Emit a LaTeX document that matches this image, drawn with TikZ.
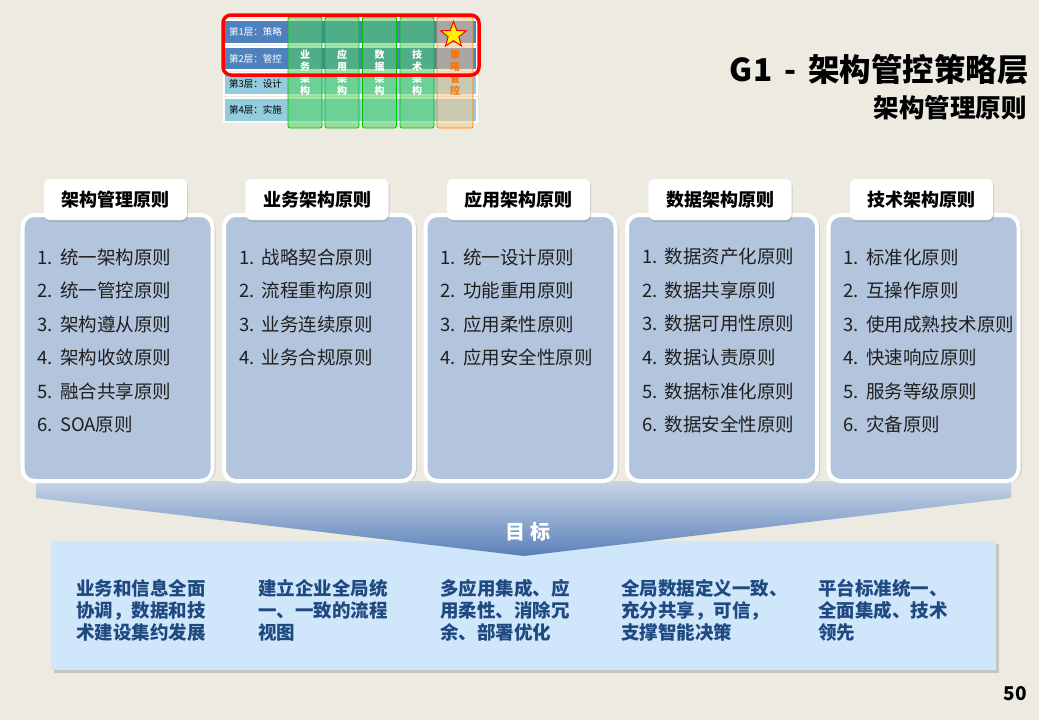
\documentclass[tikz,border=0pt]{standalone}
\usepackage{fontspec}
\setmainfont{Noto Sans CJK SC}
\usetikzlibrary{shapes.geometric, positioning, shadows, calc}
\definecolor{bgbeige}{HTML}{EDEBE1}
\definecolor{panelblue}{HTML}{B3C5DD}
\definecolor{goalblue}{HTML}{D0E6FB}
\definecolor{goaltext}{HTML}{1F4A80}
\definecolor{layerdark}{HTML}{4F81BD}
\definecolor{layerlight}{HTML}{93CDDD}
\definecolor{colgreen}{HTML}{4FD35F}
\definecolor{colorange}{HTML}{F6C88C}
\definecolor{funneltop}{HTML}{C8D5E5}
\definecolor{funnelbottom}{HTML}{5A80BA}

\begin{document}
\begin{tikzpicture}[
    x = 1pt, y = -1pt,
    layer/.style = {
      rectangle, draw = white, line width = 1.2pt, inner sep = 0pt,
      minimum width = 253pt
    },
    layertext/.style = {
      anchor = west, inner sep = 0pt, font = \fontsize{9.5}{11}\selectfont
    },
    column/.style = {
      rectangle, rounded corners = 2pt, draw = green!75!black, line width = 0.8pt,
      fill = colgreen, fill opacity = 0.55, inner sep = 0pt,
      minimum width = 34pt, minimum height = 111pt
    },
    coltext/.style = {
      align = center, inner sep = 0pt, text = white,
      font = \bfseries\fontsize{10}{12}\selectfont
    },
    panel/.style = {
      rectangle, rounded corners = 12pt, draw = white, line width = 4pt,
      fill = panelblue, inner sep = 0pt,
      minimum width = 190pt, minimum height = 266pt,
      drop shadow = {opacity = 0.3, shadow xshift = 3pt, shadow yshift = -1pt}
    },
    header/.style = {
      rectangle, rounded corners = 6pt, fill = white, inner sep = 0pt,
      minimum width = 143pt, minimum height = 41pt,
      font = \bfseries\fontsize{18}{20}\selectfont,
      drop shadow = {opacity = 0.3, shadow xshift = 1pt, shadow yshift = -2pt}
    },
    item/.style = {
      anchor = west, inner sep = 0pt, text = black!88,
      font = \fontsize{18.5}{22}\selectfont
    },
    goal/.style = {
      anchor = north west, align = left, inner sep = 0pt, text = goaltext,
      font = \bfseries\fontsize{18.5}{22}\selectfont
    },
    ]

    % background
    \fill [bgbeige] (0,0) rectangle (1039,720);
    \useasboundingbox (0,0) rectangle (1039,720);

    % draw layer rows
    \foreach \i/\y/\h/\c/\t/\txt in {1/32/24/layerdark/white/策略, 2/58.5/23/layerdark/white/管控,
                                     3/84/22/layerlight/black/设计, 4/110/24/layerlight/black/实施}
    {
      \node  [layer, fill = \c, minimum height = \h pt]  (layer\i)  at (350.5, \y)  {};
      \node  [layertext, text = \t]  (lname\i)  at (229, \y)  {第\i 层：\txt};
    }

    % draw columns
    \foreach \i/\x/\a/\b in {1/305/业/务, 2/342/应/用, 3/379.5/数/据, 4/417/技/术}
    {
      \node  [column]  (col\i)  at (\x, 72.5)  {};
      \node  [coltext]  (ctext\i)  at (col\i)  {\a\\\b\\架\\构};
    }
    \node  [column, draw = orange, fill = colorange, minimum width = 36pt]  (col5)  at (455, 72.5)  {};
    \node  [coltext, text = orange!90!red]  (ctext5)  at (col5)  {策\\略\\管\\控};
    \node  [star, star points = 5, star point ratio = 2.4, fill = yellow, draw = red,
            line width = 1pt, inner sep = 0pt, minimum size = 27pt]  (focusstar)  at (453.5, 35)  {};
    \node  [rectangle, rounded corners = 8pt, draw = red, line width = 3.5pt,
            minimum width = 256pt, minimum height = 60pt]  (focus)  at (351, 45)  {};

    % draw titles
    \node  [anchor = east, inner sep = 0pt, font = \bfseries\fontsize{31.5}{34}\selectfont]
           (title)  at (1029, 70)  {G1\hspace{12pt}-\hspace{12pt}架构管控策略层};
    \node  [anchor = east, inner sep = 0pt, font = \bfseries\fontsize{25.5}{28}\selectfont]
           (subtitle)  at (1027, 108)  {架构管理原则};

    % draw goal box and funnel
    \node  [rectangle, fill = goalblue, inner sep = 0pt, minimum width = 945pt, minimum height = 129pt,
            drop shadow = {opacity = 0.35, shadow xshift = 3pt, shadow yshift = -3pt}]
           (goalbox)  at (523.5, 605.5)  {};
    \coordinate  (tip)  at (524, 556);
    \shade  [top color = funneltop, bottom color = funnelbottom]
           (36, 481) -- (1011, 481) -- (1011, 498) -- (tip) -- (36, 498) -- cycle;
    \node  [text = white, font = \bfseries\fontsize{20}{22}\selectfont]  (goaltitle)  at (528, 532)  {目\ 标};

    % draw panels
    \foreach \i/\txt in {1/架构管理原则, 2/业务架构原则, 3/应用架构原则, 4/数据架构原则, 5/技术架构原则}
    {
      \node  [panel]  (panel\i)  at (117.5 + 201.5*\i - 201.5, 348)  {};
      \node  [header]  (head\i)  at (115.5 + 201.5*\i - 201.5, 199.5)  {\txt};
    }

    % draw principles
    \foreach \i/\txt in {1/统一架构原则, 2/统一管控原则, 3/架构遵从原则, 4/架构收敛原则, 5/融合共享原则, 6/SOA原则}
    \node  [item]  (a\i)  at ($(panel1.west) + (17, 257 + 33.5*\i - 33.5 - 348)$)  {\i.\hspace{7pt}\txt};

    \foreach \i/\txt in {1/战略契合原则, 2/流程重构原则, 3/业务连续原则, 4/业务合规原则}
    \node  [item]  (b\i)  at ($(panel2.west) + (17, 257 + 33.5*\i - 33.5 - 348)$)  {\i.\hspace{7pt}\txt};

    \foreach \i/\txt in {1/统一设计原则, 2/功能重用原则, 3/应用柔性原则, 4/应用安全性原则}
    \node  [item]  (c\i)  at ($(panel3.west) + (17, 257 + 33.5*\i - 33.5 - 348)$)  {\i.\hspace{7pt}\txt};

    \foreach \i/\txt in {1/数据资产化原则, 2/数据共享原则, 3/数据可用性原则, 4/数据认责原则, 5/数据标准化原则, 6/数据安全性原则}
    \node  [item]  (d\i)  at ($(panel4.west) + (17, 257 + 33.5*\i - 33.5 - 348)$)  {\i.\hspace{7pt}\txt};

    \foreach \i/\txt in {1/标准化原则, 2/互操作原则, 3/使用成熟技术原则, 4/快速响应原则, 5/服务等级原则, 6/灾备原则}
    \node  [item]  (e\i)  at ($(panel5.west) + (17, 257 + 33.5*\i - 33.5 - 348)$)  {\i.\hspace{7pt}\txt};

    % draw goals
    \node  [goal]  (g1)  at (76, 579)  {业务和信息全面\\协调，数据和技\\术建设集约发展};
    \node  [goal]  (g2)  at (258, 579)  {建立企业全局统\\一、一致的流程\\视图};
    \node  [goal]  (g3)  at (440, 579)  {多应用集成、应\\用柔性、消除冗\\余、部署优化};
    \node  [goal]  (g4)  at (621, 579)  {全局数据定义一致、\\充分共享，可信，\\支撑智能决策};
    \node  [goal]  (g5)  at (818, 579)  {平台标准统一、\\全面集成、技术\\领先};

    % page number
    \node  [font = \bfseries\fontsize{19}{21}\selectfont]  (pagenum)  at (1015, 694)  {50};

\end{tikzpicture}
\end{document}
